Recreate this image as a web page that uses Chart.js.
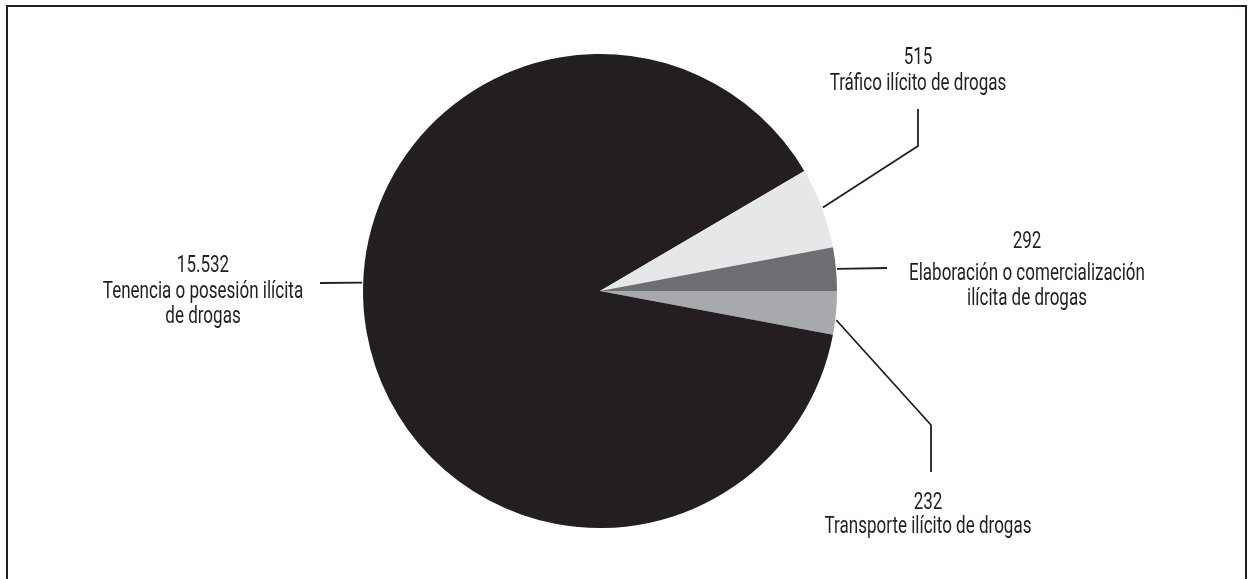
<!DOCTYPE html>
<html>
<head>
<meta charset="utf-8">
<script src="https://cdn.jsdelivr.net/npm/chart.js@4.4.1/dist/chart.umd.min.js"></script>
<style>
  html, body { margin: 0; padding: 0; background: #fff; }
  #wrap { position: relative; width: 1248px; height: 579px; overflow: hidden; }
  #frame { position: absolute; left: 6px; top: 5px; width: 1237px; height: 600px;
           border: 2.5px solid #231f20; border-bottom: none; }
  canvas { position: absolute; left: 0; top: 0; }
</style>
</head>
<body>
<div id="wrap">
  <div id="frame"></div>
  <canvas id="pieChart" width="1248" height="579"></canvas>
</div>
<script>
// slices in drawing order (clockwise from 3 o'clock)
const categories = [
    ['Transporte ilícito de drogas'],
    ['Tenencia o posesión ilícita', 'de drogas'],
    ['Tráfico ilícito de drogas'],
    ['Elaboración o comercialización', 'ilícita de drogas']
];
// counts printed on the labels
const counts = ['232', '15.532', '515', '292'];
// share of the circle each slice takes in the picture (%)
const sliceShare = [2.95, 88.6, 5.5, 2.95];
const colors = ['#a7a9ac', '#231f20', '#e6e7e8', '#6d6e71'];

// leader lines + label placement, relative to the pie centre
// text: [centre x, baseline of count, baseline of first name line]
const callouts = [
    { angle: -7, path: [[331, 134], [331, 181]], text: [328, 218, 242] },
    { angle: 178, path: [[-280, -8]], text: [-397, -19, 7] },
    { angle: null, path: [[318, -145], [318, -182]], text: [318, -227, -201] },
    { angle: null, path: [[287, -23]], text: [427, -43, -11] }
];

const calloutPlugin = {
    id: 'callouts',
    afterDraw(chart) {
        const c = chart.ctx;
        const arcs = chart.getDatasetMeta(0).data;
        c.save();
        c.strokeStyle = '#231f20';
        c.lineWidth = 1.8;
        c.fillStyle = '#231f20';
        c.font = '23px Roboto, "DejaVu Sans Condensed", Arial';
        c.textAlign = 'center';
        c.textBaseline = 'alphabetic';
        arcs.forEach((arc, i) => {
            const p = arc.getProps(['x', 'y', 'startAngle', 'endAngle', 'outerRadius'], true);
            const co = callouts[i];
            let a = co.angle === null ? (p.startAngle + p.endAngle) / 2 : -co.angle * Math.PI / 180;
            c.beginPath();
            c.moveTo(p.x + Math.cos(a) * (p.outerRadius + 1), p.y + Math.sin(a) * (p.outerRadius + 1));
            co.path.forEach(pt => c.lineTo(p.x + pt[0], p.y + pt[1]));
            c.stroke();
            // condensed look: squeeze text horizontally
            const sx = 0.74;
            const tx = p.x + co.text[0];
            c.save();
            c.translate(tx, 0);
            c.scale(sx, 1);
            c.fillText(counts[i], 0, p.y + co.text[1]);
            categories[i].forEach((t, k) => {
                c.fillText(t, 0, p.y + co.text[2] + k * 25);
            });
            c.restore();
        });
        c.restore();
    }
};

const ctx = document.getElementById('pieChart').getContext('2d');
const pieChart = new Chart(ctx, {
    type: 'pie',
    data: {
        labels: categories.map(l => l.join(' ')),
        datasets: [{
            data: sliceShare,
            backgroundColor: colors,
            borderWidth: 0
        }]
    },
    options: {
        responsive: false,
        animation: false,
        rotation: 90,
        layout: { padding: { left: 100, right: 148, top: 54, bottom: 51 } },
        plugins: {
            legend: { display: false },
            tooltip: { enabled: false }
        }
    },
    plugins: [calloutPlugin]
});
</script>
</body>
</html>
